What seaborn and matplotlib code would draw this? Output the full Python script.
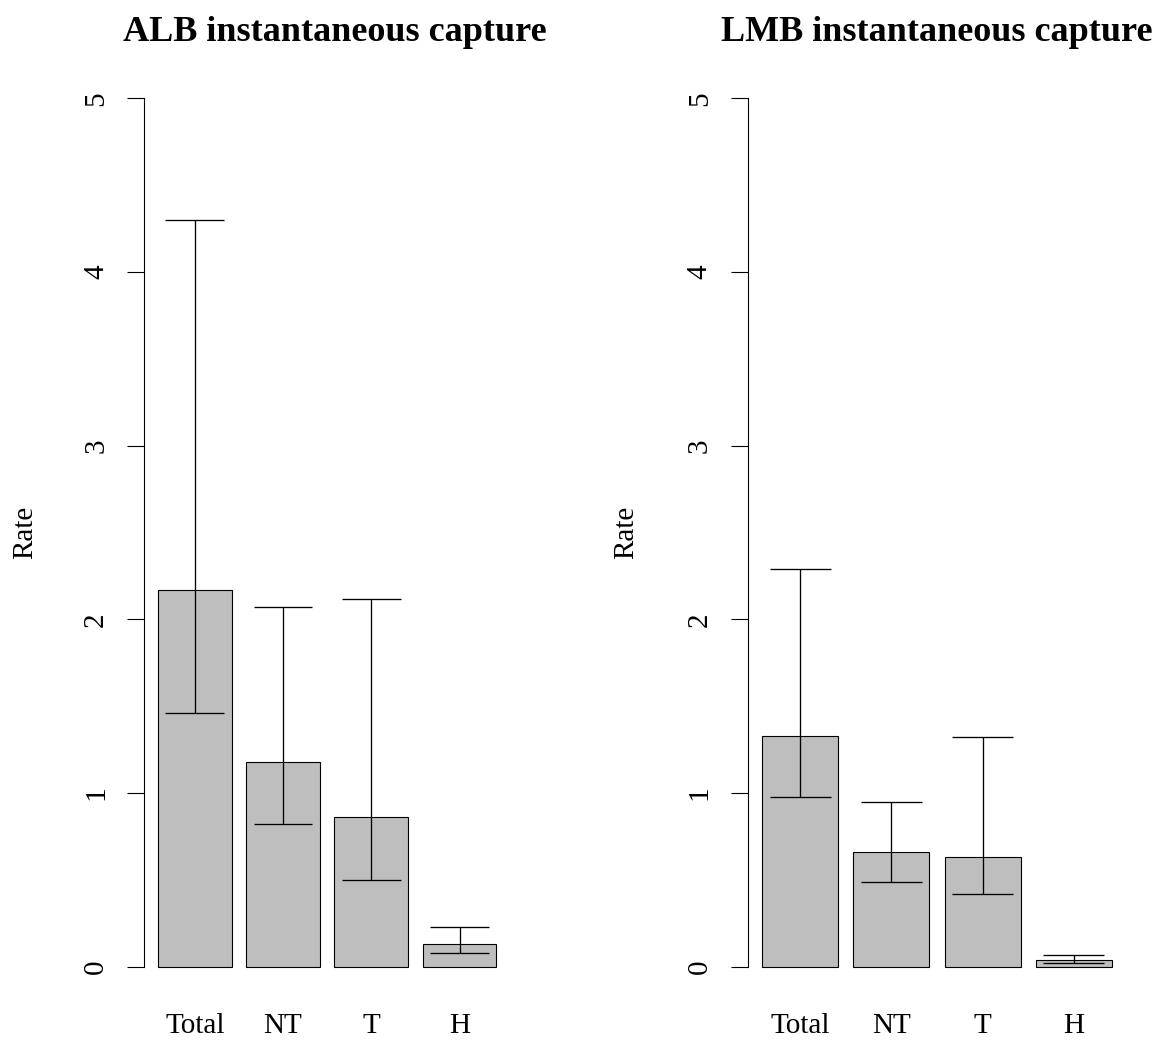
import matplotlib
matplotlib.use("Agg")
import matplotlib.pyplot as plt
import seaborn as sns
import pandas as pd

# Capture rates by category, with lower / upper confidence limits
categories = ["Total", "NT", "T", "H"]

alb_rate = [2.17, 1.18, 0.86, 0.13]
alb_lower = [1.46, 0.82, 0.50, 0.08]
alb_upper = [4.30, 2.07, 2.12, 0.23]

lmb_rate = [1.33, 0.66, 0.63, 0.04]
lmb_lower = [0.98, 0.49, 0.42, 0.02]
lmb_upper = [2.29, 0.95, 1.32, 0.07]

panel_titles = ["ALB instantaneous capture", "LMB instantaneous capture"]
y_ticks = [0, 1, 2, 3, 4, 5]

sns.set_style("white")
plt.rcParams["font.family"] = ["Liberation Serif", "DejaVu Serif"]
plt.rcParams.update({
    "text.color": "black",
    "axes.labelcolor": "black",
    "axes.edgecolor": "black",
    "xtick.color": "black",
    "ytick.color": "black",
})

fig = plt.figure(figsize=(11.69, 10.40), dpi=100)
axes = [
    fig.add_axes([0.1236, 0.0370, 0.3125, 0.9019]),
    fig.add_axes([0.6401, 0.0370, 0.3228, 0.9019]),
]

panels = [
    (alb_rate, alb_lower, alb_upper),
    (lmb_rate, lmb_lower, lmb_upper),
]
title_x = [0.522, 0.5]

bar_width = 1 / 1.2
cap_half = 0.4 / 1.2

for ax, title, tx, (rate, lower, upper) in zip(axes, panel_titles, title_x, panels):
    df = pd.DataFrame({"category": categories, "rate": rate,
                       "lower": lower, "upper": upper})
    sns.barplot(data=df, x="category", y="rate", order=categories,
                color="#BEBEBE", saturation=1, edgecolor="black",
                linewidth=0.8, width=bar_width, errorbar=None, ax=ax)
    pos = list(range(len(categories)))
    ax.vlines(pos, df["lower"], df["upper"], color="black", lw=0.95, zorder=3)
    ax.hlines(df["lower"], [p - cap_half for p in pos], [p + cap_half for p in pos],
              color="black", lw=0.95, zorder=3)
    ax.hlines(df["upper"], [p - cap_half for p in pos], [p + cap_half for p in pos],
              color="black", lw=0.95, zorder=3)

    ax.set_xlim(-0.57, 3.57)
    ax.set_ylim(-0.2, 5.2)
    ax.set_yticks(y_ticks)
    ax.set_yticklabels([str(t) for t in y_ticks])
    ax.tick_params(axis="y", direction="out", length=12.5, width=0.8,
                   labelsize=21, pad=13, labelrotation=90, left=True)
    ax.tick_params(axis="x", length=0, labelsize=21, pad=8)
    for lab in ax.get_yticklabels():
        lab.set_verticalalignment("center")
    for side in ["top", "right", "bottom"]:
        ax.spines[side].set_visible(False)
    ax.spines["left"].set_bounds(0, 5)
    ax.spines["left"].set_linewidth(0.8)
    ax.set_xlabel("")
    ax.set_ylabel("Rate", fontsize=21)
    ax.yaxis.set_label_coords(-0.29, 0.5)
    ax.set_title(title, fontsize=26, fontweight="bold", pad=16, x=tx)

fig.savefig("out.png", dpi=100, facecolor="white")
